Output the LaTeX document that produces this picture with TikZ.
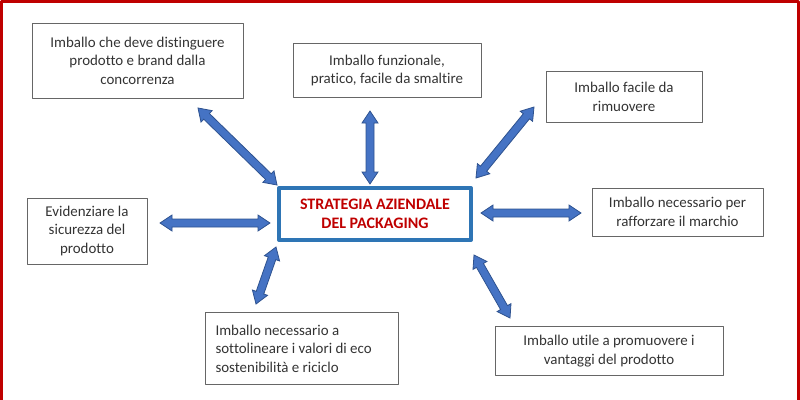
\documentclass[tikz,border=0pt]{standalone}
\usepackage{fontspec}
\setmainfont{Carlito}[Ligatures=NoCommon]
\usetikzlibrary{calc}
\definecolor{ccqqqq}{rgb}{0.75,0.,0.}
\definecolor{qqttbb}{rgb}{0.18,0.46,0.71}
\definecolor{uuttcc}{rgb}{0.27,0.45,0.77}
\definecolor{qqooii}{rgb}{0.18,0.32,0.56}
\definecolor{zzzzzz}{rgb}{0.4,0.4,0.4}
\definecolor{ssssss}{rgb}{0.2,0.2,0.2}
% double block arrow between two named points
\newcommand{\dblarrow}[2]{%
\filldraw[barrow] (#1) -- ($(#1)!9pt!(#2)!6pt!90:(#2)$) -- ($(#1)!9pt!(#2)!3pt!90:(#2)$) -- ($(#2)!9pt!(#1)!3pt!-90:(#1)$) -- ($(#2)!9pt!(#1)!6pt!-90:(#1)$) -- (#2) -- ($(#2)!9pt!(#1)!6pt!90:(#1)$) -- ($(#2)!9pt!(#1)!3pt!90:(#1)$) -- ($(#1)!9pt!(#2)!3pt!-90:(#2)$) -- ($(#1)!9pt!(#2)!6pt!-90:(#2)$) -- cycle;}
\begin{document}
\begin{tikzpicture}[line cap=round,line join=round,x=0.75pt,y=-0.75pt,
box/.style={draw=zzzzzz,line width=0.6pt,text=ssssss,align=center,inner sep=0pt,font=\fontsize{11.2}{13.9}\selectfont},
core/.style={draw=qqttbb,line width=3pt,text=ccqqqq,align=center,inner sep=0pt,font=\fontsize{12}{14.5}\selectfont\bfseries},
barrow/.style={fill=uuttcc,draw=qqooii,line width=0.6pt,line join=miter}]
\useasboundingbox (0,0) rectangle (800,400);
\draw [color=ccqqqq,line width=2.25pt,line cap=butt] (1.5,400) -- (1.5,1.5) -- (798,1.5) -- (798,400);
\node[core,minimum width=144pt,minimum height=39pt] (strategia) at (375,214) {STRATEGIA AZIENDALE\\DEL PACKAGING};
\node[box,minimum width=158.25pt,minimum height=56.25pt] (brand) at (137.5,60.5) {Imballo che deve distinguere\\prodotto e brand dalla\\concorrenza};
\node[box,minimum width=141pt,minimum height=40.5pt] (funzionale) at (387,70.5) {Imballo funzionale,\\pratico, facile da smaltire};
\node[box,minimum width=117pt,minimum height=38.25pt] (rimuovere) at (624,97) {Imballo facile da\\rimuovere};
\node[box,minimum width=128.25pt,minimum height=36pt] (marchio) at (677.5,212) {Imballo necessario per\\rafforzare il marchio};
\node[box,minimum width=90pt,minimum height=49.5pt] (sicurezza) at (87,231) {Evidenziare la\\sicurezza del\\prodotto};
\node[box,align=flush left,text width=129.75pt,inner xsep=7.5pt,minimum height=54pt] (eco) at (302,348.5) {Imballo necessario a\\sottolineare i valori di eco\\sostenibilità e riciclo};
\node[box,minimum width=171pt,minimum height=36.75pt] (vantaggi) at (609,351) {Imballo utile a promuovere i\\vantaggi del prodotto};
\coordinate (p1) at (198,108);
\coordinate (q1) at (277,185);
\coordinate (p2) at (370,111);
\coordinate (q2) at (370,184);
\coordinate (p3) at (534,107);
\coordinate (q3) at (476,178);
\coordinate (p4) at (581,213);
\coordinate (q4) at (481,213);
\coordinate (p5) at (160,223);
\coordinate (q5) at (270,223);
\coordinate (p6) at (256,304);
\coordinate (q6) at (276,247);
\coordinate (p7) at (510,318);
\coordinate (q7) at (474,255);
\dblarrow{p1}{q1}
\dblarrow{p2}{q2}
\dblarrow{p3}{q3}
\dblarrow{p4}{q4}
\dblarrow{p5}{q5}
\dblarrow{p6}{q6}
\dblarrow{p7}{q7}
\end{tikzpicture}
\end{document}
